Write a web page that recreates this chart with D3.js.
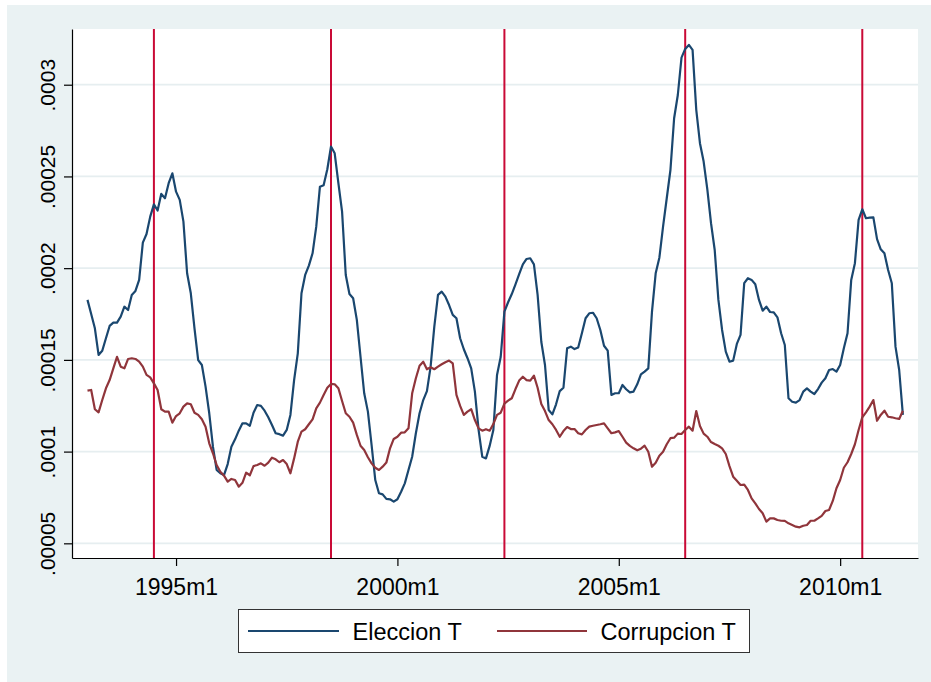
<!DOCTYPE html>
<html><head><meta charset="utf-8">
<script src="https://cdn.jsdelivr.net/npm/d3@7"></script>
<style>
body{margin:0;background:#fff}
svg{display:block}
text{font-family:"Liberation Sans",Arial,Helvetica,sans-serif;fill:#000}
</style>
</head><body>
<svg id="c" width="931" height="682"></svg>
<script>
// ---- data (monthly, first month below) ----
const startMonth = "1993m1";
const eleccion = [
1.827e-4,1.750e-4,1.672e-4,1.527e-4,1.550e-4,1.618e-4,1.685e-4,1.703e-4,1.703e-4,1.736e-4,
1.790e-4,1.772e-4,1.854e-4,1.876e-4,1.936e-4,2.139e-4,2.186e-4,2.281e-4,2.348e-4,2.314e-4,
2.405e-4,2.381e-4,2.463e-4,2.517e-4,2.417e-4,2.372e-4,2.254e-4,1.972e-4,1.863e-4,1.672e-4,
1.499e-4,1.472e-4,1.354e-4,1.209e-4,1.027e-4,0.900e-4,0.882e-4,0.872e-4,0.932e-4,1.027e-4,
1.067e-4,1.114e-4,1.154e-4,1.154e-4,1.141e-4,1.212e-4,1.254e-4,1.249e-4,1.223e-4,1.187e-4,
1.145e-4,1.100e-4,1.095e-4,1.087e-4,1.118e-4,1.200e-4,1.390e-4,1.536e-4,1.863e-4,1.963e-4,
2.014e-4,2.081e-4,2.226e-4,2.444e-4,2.452e-4,2.539e-4,2.663e-4,2.626e-4,2.463e-4,2.308e-4,
1.963e-4,1.859e-4,1.836e-4,1.718e-4,1.517e-4,1.318e-4,1.218e-4,1.036e-4,0.845e-4,0.773e-4,
0.767e-4,0.742e-4,0.740e-4,0.727e-4,0.740e-4,0.781e-4,0.827e-4,0.900e-4,0.972e-4,1.100e-4,
1.209e-4,1.281e-4,1.330e-4,1.463e-4,1.681e-4,1.854e-4,1.872e-4,1.845e-4,1.799e-4,1.745e-4,
1.727e-4,1.618e-4,1.558e-4,1.509e-4,1.454e-4,1.327e-4,1.118e-4,0.972e-4,0.963e-4,1.031e-4,
1.118e-4,1.418e-4,1.517e-4,1.763e-4,1.814e-4,1.859e-4,1.912e-4,1.967e-4,2.021e-4,2.050e-4,
2.054e-4,2.021e-4,1.854e-4,1.599e-4,1.472e-4,1.227e-4,1.203e-4,1.258e-4,1.330e-4,1.348e-4,
1.563e-4,1.572e-4,1.559e-4,1.567e-4,1.645e-4,1.727e-4,1.754e-4,1.757e-4,1.727e-4,1.663e-4,
1.577e-4,1.550e-4,1.309e-4,1.318e-4,1.318e-4,1.363e-4,1.340e-4,1.323e-4,1.327e-4,1.367e-4,
1.421e-4,1.436e-4,1.454e-4,1.763e-4,1.972e-4,2.057e-4,2.226e-4,2.381e-4,2.535e-4,2.817e-4,
2.944e-4,3.148e-4,3.195e-4,3.217e-4,3.190e-4,2.863e-4,2.681e-4,2.581e-4,2.430e-4,2.245e-4,
2.099e-4,1.827e-4,1.663e-4,1.545e-4,1.490e-4,1.496e-4,1.587e-4,1.636e-4,1.918e-4,1.945e-4,
1.936e-4,1.912e-4,1.827e-4,1.768e-4,1.790e-4,1.761e-4,1.759e-4,1.732e-4,1.645e-4,1.581e-4,
1.291e-4,1.272e-4,1.267e-4,1.281e-4,1.327e-4,1.345e-4,1.327e-4,1.314e-4,1.341e-4,1.376e-4,
1.400e-4,1.445e-4,1.450e-4,1.436e-4,1.472e-4,1.563e-4,1.645e-4,1.936e-4,2.027e-4,2.263e-4,
2.321e-4,2.272e-4,2.275e-4,2.277e-4,2.158e-4,2.103e-4,2.081e-4,1.990e-4,1.918e-4,1.572e-4,
1.445e-4,1.200e-4];
const corrupcion = [
1.332e-4,1.336e-4,1.231e-4,1.214e-4,1.281e-4,1.345e-4,1.390e-4,1.454e-4,1.517e-4,1.463e-4,
1.454e-4,1.505e-4,1.509e-4,1.505e-4,1.490e-4,1.463e-4,1.418e-4,1.405e-4,1.372e-4,1.336e-4,
1.231e-4,1.218e-4,1.218e-4,1.158e-4,1.194e-4,1.209e-4,1.245e-4,1.263e-4,1.258e-4,1.212e-4,
1.200e-4,1.176e-4,1.136e-4,1.045e-4,0.991e-4,0.927e-4,0.890e-4,0.869e-4,0.836e-4,0.851e-4,
0.845e-4,0.809e-4,0.830e-4,0.885e-4,0.871e-4,0.921e-4,0.927e-4,0.936e-4,0.923e-4,0.940e-4,
0.967e-4,0.958e-4,0.942e-4,0.954e-4,0.932e-4,0.882e-4,0.963e-4,1.054e-4,1.109e-4,1.122e-4,
1.149e-4,1.176e-4,1.236e-4,1.267e-4,1.309e-4,1.348e-4,1.369e-4,1.367e-4,1.345e-4,1.276e-4,
1.209e-4,1.190e-4,1.158e-4,1.091e-4,1.032e-4,1.009e-4,0.969e-4,0.936e-4,0.912e-4,0.900e-4,
0.918e-4,0.940e-4,1.018e-4,1.069e-4,1.081e-4,1.103e-4,1.105e-4,1.127e-4,1.318e-4,1.400e-4,
1.468e-4,1.490e-4,1.449e-4,1.460e-4,1.449e-4,1.463e-4,1.476e-4,1.487e-4,1.496e-4,1.481e-4,
1.309e-4,1.249e-4,1.200e-4,1.218e-4,1.231e-4,1.172e-4,1.127e-4,1.114e-4,1.122e-4,1.114e-4,
1.150e-4,1.200e-4,1.212e-4,1.262e-4,1.278e-4,1.291e-4,1.341e-4,1.387e-4,1.408e-4,1.390e-4,
1.387e-4,1.414e-4,1.348e-4,1.260e-4,1.221e-4,1.172e-4,1.149e-4,1.118e-4,1.081e-4,1.112e-4,
1.134e-4,1.123e-4,1.123e-4,1.100e-4,1.094e-4,1.118e-4,1.136e-4,1.141e-4,1.145e-4,1.149e-4,
1.154e-4,1.127e-4,1.100e-4,1.105e-4,1.112e-4,1.081e-4,1.049e-4,1.031e-4,1.018e-4,1.007e-4,
1.016e-4,1.032e-4,0.999e-4,0.918e-4,0.939e-4,0.978e-4,0.999e-4,1.040e-4,1.073e-4,1.076e-4,
1.098e-4,1.096e-4,1.118e-4,1.136e-4,1.114e-4,1.221e-4,1.140e-4,1.098e-4,1.081e-4,1.052e-4,
1.041e-4,1.032e-4,1.018e-4,0.987e-4,0.921e-4,0.863e-4,0.841e-4,0.818e-4,0.820e-4,0.791e-4,
0.745e-4,0.718e-4,0.687e-4,0.664e-4,0.618e-4,0.636e-4,0.636e-4,0.627e-4,0.623e-4,0.622e-4,
0.609e-4,0.600e-4,0.591e-4,0.587e-4,0.596e-4,0.600e-4,0.623e-4,0.623e-4,0.636e-4,0.650e-4,
0.676e-4,0.682e-4,0.731e-4,0.800e-4,0.845e-4,0.912e-4,0.942e-4,0.987e-4,1.040e-4,1.118e-4,
1.187e-4,1.214e-4,1.245e-4,1.281e-4,1.168e-4,1.200e-4,1.223e-4,1.190e-4,1.187e-4,1.182e-4,
1.178e-4,1.223e-4];
const seriesNames = ["Eleccion T", "Corrupcion T"];
const xTickLabels = ["1995m1", "2000m1", "2005m1", "2010m1"];
const yTicks = [0.00005, 0.0001, 0.00015, 0.0002, 0.00025, 0.0003];
const yTickLabels = [".00005", ".0001", ".00015", ".0002", ".00025", ".0003"];
const electionMonths = ["1994m7", "1998m7", "2002m6", "2006m7", "2010m7"];

// ---- helpers ----
function tm(s){ const p = s.split("m").map(Number); return (p[0]-1960)*12 + (p[1]-1); }
const t0 = tm(startMonth);
const months = eleccion.map((_, i) => t0 + i);

const svg = d3.select("#c");
const L = 72, R = 918, T = 29, B = 558;
const x = d3.scaleLinear().domain([tm("1995m1") - 28.2, tm("2010m1") + 21.1]).range([L, R]);
const y = d3.scaleLinear().domain([0.000042, 0.00033037]).range([B, T]);

// backgrounds
svg.append("rect").attr("x", 7).attr("y", 5).attr("width", 924).attr("height", 677).attr("fill", "#eaf2f3");
svg.append("rect").attr("x", L).attr("y", T).attr("width", R - L).attr("height", B - T).attr("fill", "#ffffff");

// gridlines
svg.append("g").selectAll("line").data(yTicks).join("line")
  .attr("x1", L).attr("x2", R).attr("y1", d => y(d)).attr("y2", d => y(d))
  .attr("stroke", "#e6eef0").attr("stroke-width", 1.8);

// election vertical lines
svg.append("g").selectAll("line").data(electionMonths).join("line")
  .attr("x1", d => x(tm(d))).attr("x2", d => x(tm(d))).attr("y1", T).attr("y2", B)
  .attr("stroke", "#c90a36").attr("stroke-width", 2);

// series
const colors = ["#1a476f", "#90353b"];
[eleccion, corrupcion].forEach((arr, k) => {
  const line = d3.line().x((d, i) => x(months[i])).y(d => y(d));
  svg.append("path").datum(arr).attr("d", line)
    .attr("fill", "none").attr("stroke", colors[k]).attr("stroke-width", 2.2)
    .attr("stroke-linejoin", "round");
});

// y axis
const ya = svg.append("g").attr("transform", `translate(${L},0)`)
  .call(d3.axisLeft(y).tickValues(yTicks).tickFormat((d, i) => yTickLabels[i]).tickSize(8).tickSizeOuter(0));
ya.select(".domain").attr("stroke", "#000").attr("stroke-width", 1.2);
ya.selectAll(".tick line").attr("stroke", "#000").attr("stroke-width", 1.2);
ya.selectAll(".tick text").attr("x", 0).attr("y", 0).attr("dy", 0)
  .attr("text-anchor", "middle").attr("transform", "translate(-17.5,0) rotate(-90)")
  .style("font-size", "21px").style("font-family", "'Liberation Sans',Arial,sans-serif").attr("fill", "#000");

// x axis
const xa = svg.append("g").attr("transform", `translate(0,${B})`)
  .call(d3.axisBottom(x).tickValues(xTickLabels.map(tm)).tickFormat((d, i) => xTickLabels[i]).tickSize(8).tickSizeOuter(0));
xa.select(".domain").attr("stroke", "#000").attr("stroke-width", 1.2);
xa.selectAll(".tick line").attr("stroke", "#000").attr("stroke-width", 1.2);
xa.selectAll(".tick text").attr("y", 37).attr("dy", 0)
  .style("font-size", "23px").style("font-family", "'Liberation Sans',Arial,sans-serif").attr("fill", "#000");

// legend
const lg = svg.append("g");
lg.append("rect").attr("x", 238.5).attr("y", 609.5).attr("width", 511).attr("height", 43)
  .attr("fill", "#fff").attr("stroke", "#333").attr("stroke-width", 1);
const legX = [[248, 339, 352.5], [497, 587, 600.5]];
seriesNames.forEach((n, k) => {
  lg.append("line").attr("x1", legX[k][0]).attr("x2", legX[k][1]).attr("y1", 631).attr("y2", 631)
    .attr("stroke", colors[k]).attr("stroke-width", 2.2);
  lg.append("text").attr("x", legX[k][2]).attr("y", 640).style("font-size", "23.5px").text(n);
});
</script>
</body></html>
